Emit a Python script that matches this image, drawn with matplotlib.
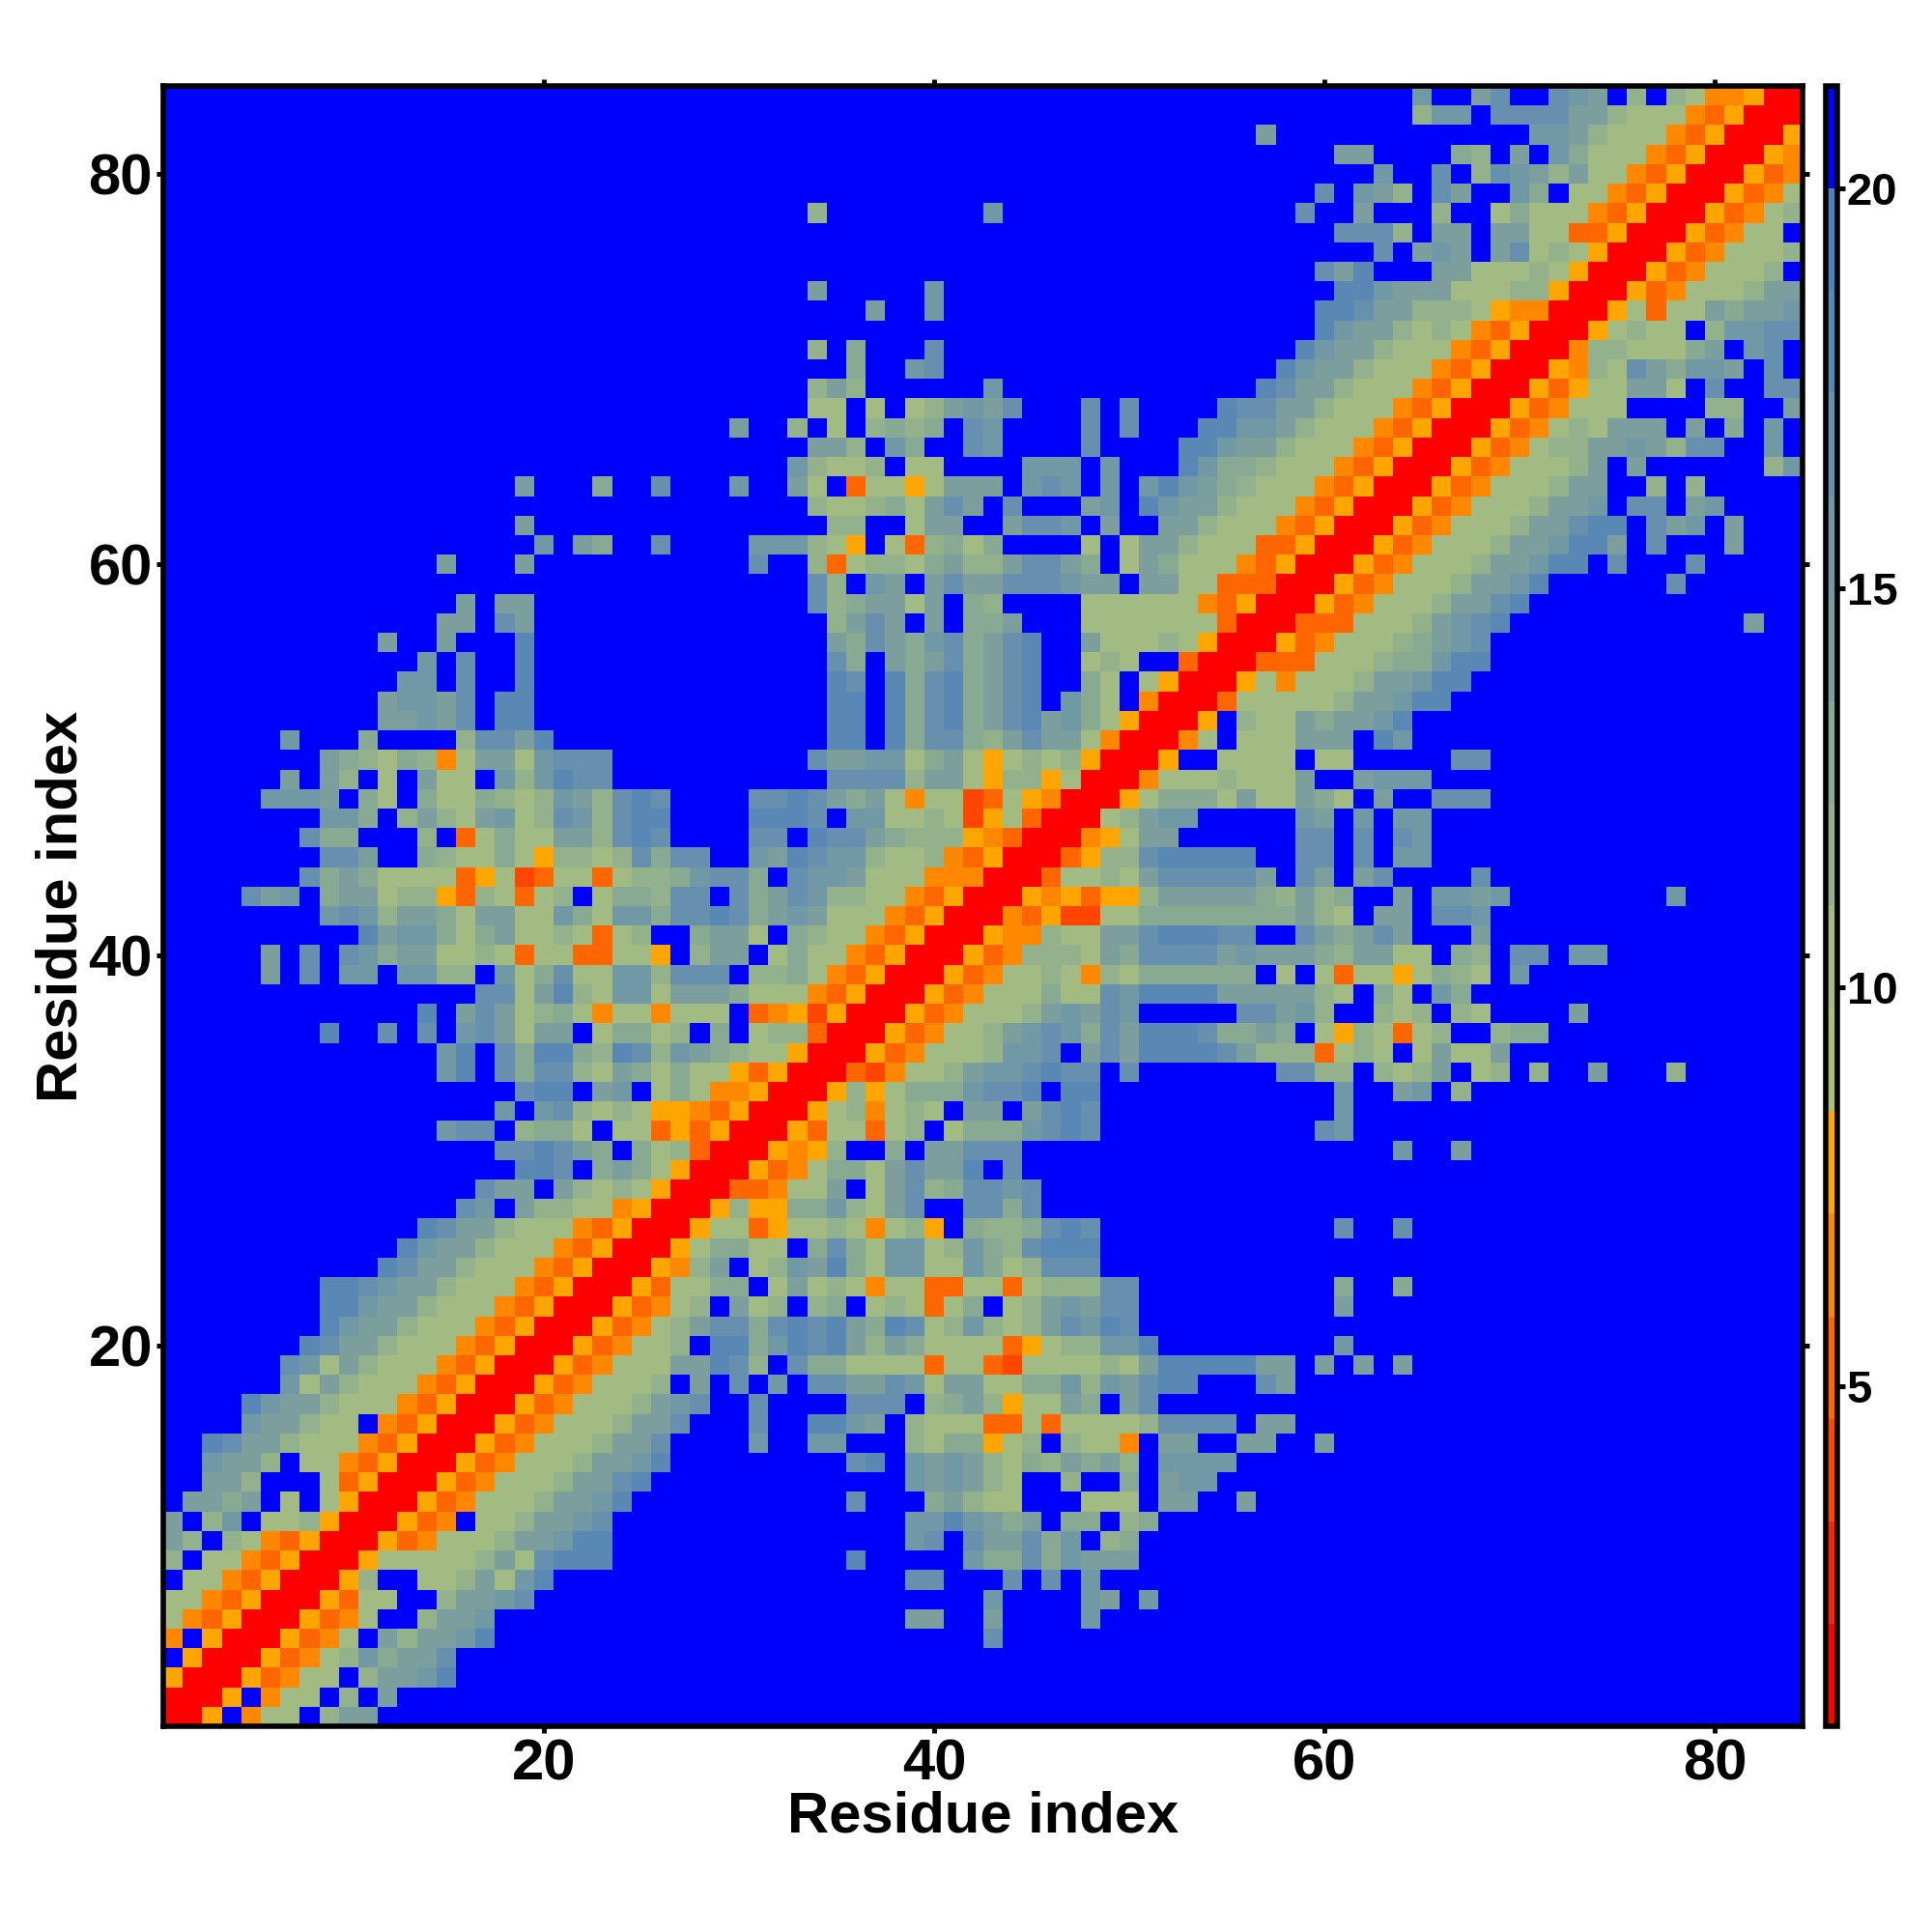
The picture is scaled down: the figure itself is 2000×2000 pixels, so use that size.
import numpy as np
import matplotlib
matplotlib.use("Agg")
import matplotlib.pyplot as plt
from matplotlib.colors import ListedColormap, BoundaryNorm

plt.rcParams['font.family'] = ['Liberation Sans', 'DejaVu Sans']
plt.rcParams['font.weight'] = 'bold'

N_RES = 84
residue_ticks = [20, 40, 60, 80]
bar_ticks = [5, 10, 15, 20]
axis_label = "Residue index"

# contour levels of the distance map
level_edges = [0.744, 2.028, 3.312, 4.596, 5.88, 7.164, 8.448, 9.732, 11.016,
               12.3, 13.584, 14.868, 16.152, 17.436, 18.72, 20.004, 21.288]
level_colors = ["#ff0000", "#ff2200", "#ff4500", "#ff6600", "#ff8800", "#ffa500",
                "#a9bf7e", "#a2bb83", "#93b18b", "#88a992", "#7c9f9d", "#7198a5",
                "#6690ad", "#5a88b5", "#4f81bd", "#0000ff"]

# lower right half of the map: one line per residue y, "x:levels" in hex,
# each char is one cell going right from x. Cells not listed are level f
half_map = [
    "1:005f477f8aa",
    "2:005f477f8fa",
    "3:0053477f8aabd",
    "4:0053478b9aac",
    "5:005347fa8aabd 43:c",
    "6:005347ff8aab 39:aa 43:a 48:b",
    "7:005377ff8aabc 43:b 48:ba 51:b",
    "8:0058ff778a7bd 39:cc 44:c 46:c 48:b",
    "9:005777778a7cddd 36:d 42:b99c9baaa",
    "10:005347778aabdd 39:bcfcaac9bf89",
    "11:00534f778aabc 39:bbdba9af99f89",
    "12:005347778aabd 36:c 40:9a877fff777faaffa",
    "13:005347778aacd 39:baba87ff8ff9fabb",
    "14:005347778aabd 36:cd 39:baba8798a9a8fbbbb",
    "15:005347778aac 31:b 34:bb 39:8799578f8774faaffaaffa",
    "16:005347778aac 31:c 34:ddbaf8777337377778ccccfaa",
    "17:005347778abc 31:c 36:cccf89a8577a9fac",
    "18:005347778fafcfbfccaacb7aa7799b8bacddfffca",
    "19:00534777aadc8fc9977773773277778 7addddd aafafafa",
    "20:00534778fdd9bdcda8a97777357 88bbd 61:b",
    "21:0053478acc9cdcda9dc78b878acbdc",
    "22:0053478fa78f89f787379f78abacc 61:a",
    "23:00537799f7a7874773377 37888cc 61:9 64:9",
    "24:00548af78bad97bb77b978ccc",
    "25:00579977f9c97bb78b98cddd",
    "26:0057735778747 85f9889cdc 61:c 64:c",
    "27:00585599b87acffcc9c",
    "28:0033477af7ac89ccbc",
    "29:005347997acaadfc",
    "30:005458ff9faaccc 64:b 67:a",
    "31:005377378f7999bcdc 60:cb",
    "32:005784787faafacdc 61:b",
    "33:005857999bccdfdd 61:b 64:abf8",
    "34:00324778abbcdccfc 58:cc88f878af78f8ffafff8",
    "35:005347778bbcfacaddddca8883787f7a77a",
    "36:00534778abcb9cadddc99a9f758737 8ff899",
    "37:005347778abacbfffffccab8ff878f87ffffa",
    "38:00534777977cbddddaaaaa87f97fb9",
    "39:005347787487999999f7f737757987fb",
    "40:005348887a9ccccabaaa98aa77f98fccfbb",
    "41:00544877aacdddccffca9acafffa",
    "42:004352277999999 99a87faafccb",
    "43:005453558aaaaa98a89ffafbbab 78:b",
    "44:0037787acccccafcafac 68:c",
    "45:003588cddddd 59:ccfcfbb",
    "46:00457aa 59:ccfcfcb",
    "47:0078abb 59:bafbfbb",
    "48:00579997a77a97faffccc",
    "49:0047778777affabbb",
    "50:005ff7777f77fffffcc",
    "51:0047f777aaafdb",
    "52:005f877a9aabd",
    "53:003777778aabdd",
    "54:005747778aabdd",
    "55:00333777899bdd",
    "56:0053477789abc",
    "57:003337778abcd 82:a",
    "58:005347778aacd",
    "59:005347778aabd 78:c",
    "60:005347778aabdd 75:c 79:c",
    "61:005347778aabdda 77:c 81:a",
    "62:005347778aacdd 77:cab 81:a",
    "63:005347778aab 76:cc 79:ab",
    "64:005347778aa 77:8 79:8",
    "65:005347778a 76:a 83:8b",
    "66:00534788aaba8cc 83:b",
    "67:00534787aaafaf9 83:b",
    "68:00534777 80:88 84:a",
    "69:0053577aa7 80:c 83:cc",
    "70:005487ca9bba 83:c",
    "71:004887779a 82:bc",
    "72:0057877 80:8bbcc",
    "73:0057377a9aab",
    "74:005347778aa",
    "75:005347778",
    "76:005347778",
    "77:0053477",
    "78:0053478",
    "79:005347",
    "80:00534",
    "81:0054",
    "82:005",
    "83:00",
    "84:0",
]


def build_matrix():
    # level centres give the distance, the map itself is symmetric
    centers = (np.array(level_edges[:-1]) + np.array(level_edges[1:])) / 2
    mat = np.full((N_RES, N_RES), centers[15])
    for y, line in enumerate(half_map):
        # a stray blank only splits a run, so glue those back first
        parts = []
        for tok in line.split():
            if ':' in tok:
                parts.append(tok.split(':'))
            else:
                parts[-1][1] += tok
        for start, levels in parts:
            for k, ch in enumerate(levels):
                x = int(start) - 1 + k
                mat[y, x] = centers[int(ch, 16)]
                mat[x, y] = centers[int(ch, 16)]
    return mat


def main():
    mat = build_matrix()
    edges = np.arange(N_RES + 1) + 0.5
    cmap = ListedColormap(level_colors)
    norm = BoundaryNorm(level_edges, cmap.N)

    fig = plt.figure(figsize=(20, 20), dpi=100)
    ax = fig.add_axes([169 / 2000, 213 / 2000, 1697 / 2000, 1698 / 2000])
    cax = fig.add_axes([1889.5 / 2000, 213 / 2000, 12 / 2000, 1698 / 2000])

    mesh = ax.pcolormesh(edges, edges, mat, cmap=cmap, norm=norm, antialiased=False)
    ax.set_xlim(0.5, 84.5)
    ax.set_ylim(0.5, 84.5)
    ax.set_xticks(residue_ticks)
    ax.set_yticks(residue_ticks)
    ax.tick_params(top=True, right=True, length=5, width=3.6, labelsize=43, pad=3)
    ax.xaxis.set_tick_params(pad=4)
    ax.set_xlabel(axis_label, fontsize=43, fontweight='bold')
    ax.set_ylabel(axis_label, fontsize=43, fontweight='bold')
    ax.xaxis.set_label_coords(0.5, -0.0553)
    ax.xaxis.label.set_va('center')
    ax.yaxis.set_label_coords(-0.0620, 0.5)
    ax.yaxis.label.set_va('center')
    for sp in ax.spines.values():
        sp.set_linewidth(4)

    bar = fig.colorbar(mesh, cax=cax, ticks=bar_ticks, spacing='proportional')
    bar.ax.minorticks_off()
    bar.ax.tick_params(length=5.4, width=3.6, labelsize=34, pad=2)
    bar.outline.set_linewidth(4)

    fig.savefig("out.png", dpi=100)


if __name__ == "__main__":
    main()
